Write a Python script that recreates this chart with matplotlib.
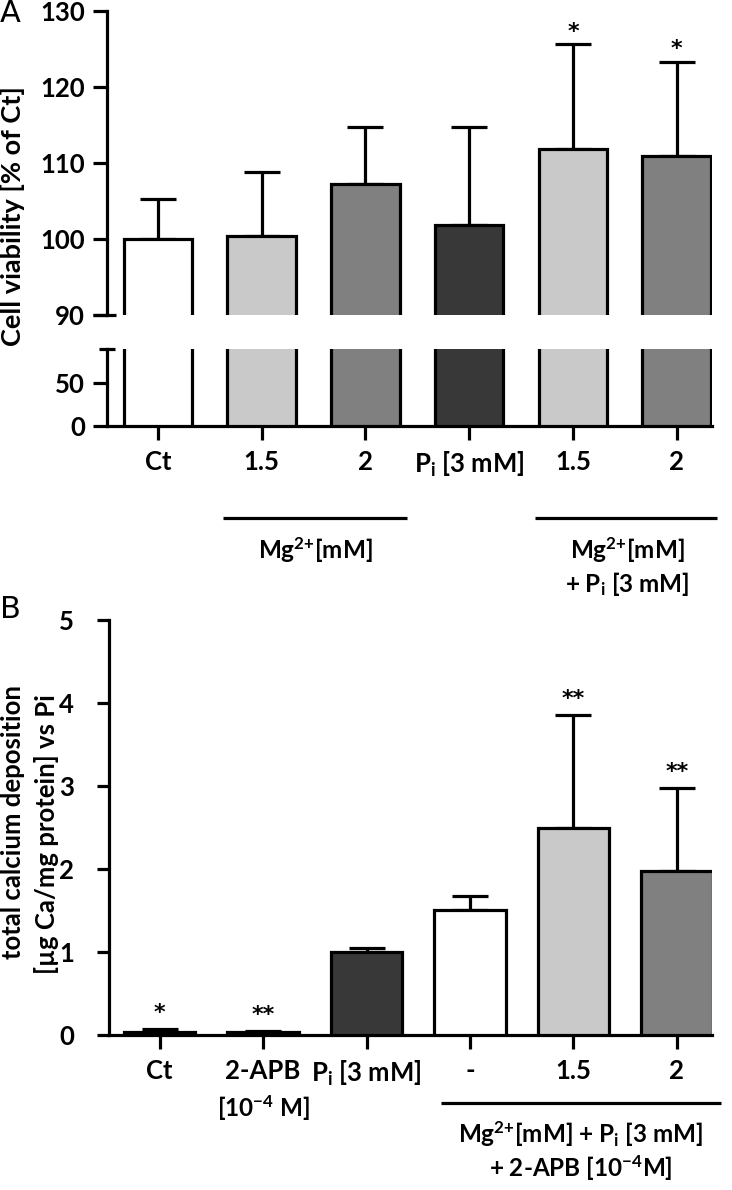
import matplotlib
matplotlib.use("Agg")
import matplotlib.pyplot as plt
from matplotlib.transforms import blended_transform_factory
import numpy as np

# ---------------- data ----------------
a_labels = ["Ct", "1.5", "2", "P$_\\mathrm{i}$ [3 mM]", "1.5", "2"]
a_means = [100.0, 100.4, 107.3, 101.8, 111.8, 110.9]
a_err = [5.3, 8.4, 7.5, 12.9, 13.8, 12.4]
a_sig = ["", "", "", "", "*", "*"]
a_colors = ["#ffffff", "#c9c9c9", "#808080", "#383838", "#c9c9c9", "#808080"]
a_top_ticks = [90, 100, 110, 120, 130]
a_low_ticks = [0, 50]

b_labels = ["Ct", "2-APB", "P$_\\mathrm{i}$ [3 mM]", "-", "1.5", "2"]
b_means = [0.04, 0.035, 1.0, 1.51, 2.49, 1.98]
b_err = [0.03, 0.012, 0.05, 0.16, 1.37, 1.0]
b_sig = ["*", "**", "", "", "**", "**"]
b_colors = ["#111111", "#111111", "#383838", "#ffffff", "#c9c9c9", "#808080"]
b_ticks = [0, 1, 2, 3, 4, 5]

# ---------------- style ----------------
plt.rcParams["font.family"] = ["Lato", "DejaVu Sans"]
plt.rcParams["font.weight"] = "bold"
plt.rcParams["mathtext.fontset"] = "custom"
plt.rcParams["mathtext.rm"] = "Lato:bold"
plt.rcParams["mathtext.it"] = "Lato:bold"
plt.rcParams["mathtext.bf"] = "Lato:bold"
plt.rcParams["mathtext.default"] = "rm"

W, H = 732, 1190
fig = plt.figure(figsize=(W / 100, H / 100), dpi=100)

def fx(px):
    return px / W

def fy(py):
    return 1 - py / H

LW = 2.3
FS = 18.5
GFS = 17.5
MG = "Mg$^{2{+}}$[mM]"

def style_ax(ax):
    for s in ["top", "right"]:
        ax.spines[s].set_visible(False)
    for s in ["left", "bottom"]:
        ax.spines[s].set_linewidth(LW)
    ax.tick_params(width=LW, length=10, labelsize=FS)

def stars(ax, x, y, s):
    ax.text(x, y, s, ha="center", va="center", fontsize=16,
            fontweight="bold", family="DejaVu Sans")

# ---------------- Panel A ----------------
xa = np.arange(len(a_means))
xlim = (-0.49, 5.34)
bw_a = 0.66

ax_top = fig.add_axes([fx(107), fy(315), fx(605), 304 / H])
ax_low = fig.add_axes([fx(107), fy(426), fx(605), 77 / H])

for ax in (ax_top, ax_low):
    style_ax(ax)
    ax.bar(xa, a_means, width=bw_a, color=a_colors, edgecolor="black",
           linewidth=LW, zorder=3)
    ax.set_xlim(*xlim)

ax_top.errorbar(xa, a_means, yerr=[np.zeros(len(a_err)), a_err], fmt="none",
                ecolor="black", elinewidth=LW, capsize=13, capthick=LW, zorder=2)
ax_top.set_ylim(90, 130)
ax_top.set_yticks(a_top_ticks)
ax_top.spines["bottom"].set_visible(False)
ax_top.set_xticks([])
ax_top.tick_params(axis="y", pad=6)
for i, s in enumerate(a_sig):
    if s:
        stars(ax_top, xa[i], a_means[i] + a_err[i] + 1.7, s)

ax_low.set_ylim(0, 89.5)
ax_low.set_yticks(a_low_ticks)
ax_low.set_xticks(xa)
ax_low.set_xticklabels(a_labels)
ax_low.tick_params(axis="y", pad=6)
ax_low.tick_params(axis="x", pad=7)

# break marks
ax_top.plot([-0.023, 0.015], [0, 0], transform=ax_top.transAxes, color="black",
            lw=LW, clip_on=False, solid_capstyle="butt")
ax_low.plot([-0.013, 0.013], [1, 1], transform=ax_low.transAxes, color="black",
            lw=LW, clip_on=False, solid_capstyle="butt")

tr_a = blended_transform_factory(ax_low.transData, fig.transFigure)
ax_low.plot([0.63, 2.40], [fy(518), fy(518)], transform=tr_a, color="black",
            lw=LW, clip_on=False, solid_capstyle="butt")
ax_low.plot([3.63, 5.39], [fy(518), fy(518)], transform=tr_a, color="black",
            lw=LW, clip_on=False, solid_capstyle="butt")
ax_low.text(1.52, fy(550), MG, transform=tr_a, ha="center",
            va="center", fontsize=GFS)
ax_low.text(4.52, fy(550), MG, transform=tr_a, ha="center",
            va="center", fontsize=GFS)
ax_low.text(4.52, fy(584), "+ P$_\\mathrm{i}$ [3 mM]", transform=tr_a,
            ha="center", va="center", fontsize=GFS)

fig.text(fx(13), fy(216), "Cell viability [% of Ct]", rotation=90,
         ha="center", va="center", fontsize=19.5)
fig.text(fx(0), fy(14), "A", ha="left", va="center", fontsize=22,
         fontweight="normal", family="DejaVu Sans")

# ---------------- Panel B ----------------
xb = np.arange(len(b_means))
bw_b = 0.69
ax_b = fig.add_axes([fx(109), fy(1035), fx(603), 415 / H])
style_ax(ax_b)
ax_b.errorbar(xb, b_means, yerr=[np.zeros(len(b_err)), b_err], fmt="none",
              ecolor="black", elinewidth=LW, capsize=13, capthick=LW, zorder=2)
ax_b.bar(xb, b_means, width=bw_b, color=b_colors, edgecolor="black",
         linewidth=LW, zorder=3)
ax_b.set_xlim(*xlim)
ax_b.set_ylim(0, 5)
ax_b.set_yticks(b_ticks)
ax_b.set_xticks(xb)
ax_b.set_xticklabels(b_labels)
ax_b.tick_params(axis="y", length=9, pad=16)
ax_b.tick_params(axis="x", length=10, pad=7)
for i, s in enumerate(b_sig):
    if s:
        stars(ax_b, xb[i], b_means[i] + b_err[i] + 0.19, s)

tr_b = blended_transform_factory(ax_b.transData, fig.transFigure)
ax_b.text(1, fy(1108), "[10$^{-4}$ M]", transform=tr_b, ha="center",
          va="center", fontsize=GFS)
ax_b.plot([2.72, 5.43], [fy(1103), fy(1103)], transform=tr_b, color="black",
          lw=LW, clip_on=False, solid_capstyle="butt")
ax_b.text(4.07, fy(1134), MG + " + P$_\\mathrm{i}$ [3 mM]",
          transform=tr_b, ha="center", va="center", fontsize=GFS)
ax_b.text(4.07, fy(1168), "+ 2-APB [10$^{-4}$M]", transform=tr_b,
          ha="center", va="center", fontsize=GFS)

fig.text(fx(13), fy(822), "total calcium deposition", rotation=90,
         ha="center", va="center", fontsize=18.5)
fig.text(fx(47), fy(834), "[µg Ca/mg protein] vs Pi", rotation=90,
         ha="center", va="center", fontsize=18.5)
fig.text(fx(0), fy(610), "B", ha="left", va="center", fontsize=22,
         fontweight="normal", family="DejaVu Sans")

fig.savefig("out.png", dpi=100)
